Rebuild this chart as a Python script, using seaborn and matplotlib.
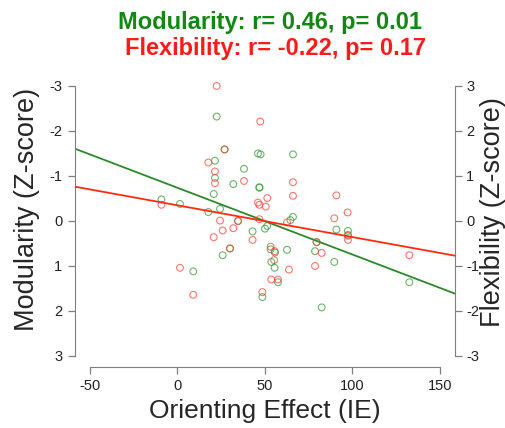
import numpy as np
import pandas as pd
import matplotlib
matplotlib.use("Agg")
import matplotlib.pyplot as plt
import seaborn as sns

# ---- data ----
mod_x = [22.5, 21.5, 46.1, 47.6, 66.1, 27.0, 38.1, 21.5, 32.0, 46.9, 46.9, 20.8,
         -9.1, 1.5, 24.4, 17.7, 66.1, 64.6, 34.7, 51.4, 50.1, 43.0, 90.9, 97.5,
         97.5, 79.6, 30.1, 53.3, 55.8, 62.7, 78.7, 25.9, 53.7, 89.7, 55.6, 9.1,
         57.5, 132.6, 48.6, 82.5]
modularity = [-2.32, -1.34, -1.50, -1.48, -1.48, -1.59, -1.16, -0.96, -0.82, -0.74, -0.75, -0.60,
              -0.48, -0.38, -0.27, -0.20, -0.09, -0.02, 0.00, 0.11, 0.17, 0.23, 0.19, 0.22,
              0.31, 0.47, 0.61, 0.63, 0.70, 0.64, 0.67, 0.76, 0.91, 0.91, 1.04, 1.12,
              1.36, 1.36, 1.69, 1.92]

flex_x = [22.5, 47.4, 27.0, 17.7, 21.5, 38.1, 21.5, 66.1, 66.1, 90.9, 51.4, 46.1,
          46.9, 50.5, -9.1, 97.3, 89.7, 46.9, 24.4, 34.7, 62.7, 25.9, 32.0, 20.8,
          43.0, 97.5, 97.5, 79.6, 30.1, 53.3, 55.6, 82.5, 132.6, 55.3, 1.5, 78.7,
          63.8, 53.7, 57.5, 48.6, 9.1]
flexibility = [3.00, 2.21, 1.59, 1.30, 1.10, 0.89, 0.84, 0.86, 0.56, 0.57, 0.51, 0.41,
               0.36, 0.32, 0.36, 0.19, 0.06, 0.04, 0.01, 0.00, -0.03, -0.21, -0.16, -0.36,
               -0.42, -0.33, -0.42, -0.47, -0.61, -0.57, -0.67, -0.71, -0.76, -0.87, -1.04, -1.00,
               -1.08, -1.30, -1.30, -1.58, -1.64]

x_ticks = [-50, 0, 50, 100, 150]
y_ticks = [-3, -2, -1, 0, 1, 2, 3]
title_mod = "Modularity: r= 0.46, p= 0.01"
title_flex = "Flexibility: r= -0.22, p= 0.17"
x_label = "Orienting Effect (IE)"
y_label_left = "Modularity (Z-score)"
y_label_right = "Flexibility (Z-score)"

df_mod = pd.DataFrame({"IE": mod_x, "Modularity": modularity})
df_flex = pd.DataFrame({"IE": flex_x, "Flexibility": flexibility})

# ---- styling ----
sns.set_style("white")
plt.rcParams["font.family"] = ["Liberation Sans", "DejaVu Sans"]

GREEN_LINE = "#2a8a2a"
GREEN_PT = "#3a9a3a"
RED_LINE = "#ff2a10"
RED_PT = "#ff3b30"
AX_GRAY = "#7f7f7f"

W, H = 506, 428
fig = plt.figure(figsize=(W / 100, H / 100), dpi=100)
ax1 = fig.add_axes([0.1482, 0.143, 0.751, 0.6813])
ax2 = ax1.twinx()

XLIM = (-58.5, 158.7)
YL = 3.24
ax1.set_xlim(*XLIM)
ax1.set_ylim(YL, -YL)
ax2.set_ylim(-YL, YL)

sns.regplot(data=df_mod, x="IE", y="Modularity", ax=ax1, ci=None, truncate=False,
            marker="o",
            scatter_kws=dict(s=24, facecolors="none", edgecolors=GREEN_PT,
                             linewidths=0.8, alpha=0.75),
            line_kws=dict(color=GREEN_LINE, lw=1.3))
sns.regplot(data=df_flex, x="IE", y="Flexibility", ax=ax2, ci=None, truncate=False,
            marker="o",
            scatter_kws=dict(s=24, facecolors="none", edgecolors=RED_PT,
                             linewidths=0.8, alpha=0.7),
            line_kws=dict(color=RED_LINE, lw=1.3))

ax1.set_xlim(*XLIM)
ax2.set_xlim(*XLIM)
ax1.set_ylim(YL, -YL)
ax2.set_ylim(-YL, YL)

for ax in (ax1, ax2):
    for s in ax.spines.values():
        s.set_visible(False)
    ax.grid(False)

ax1.spines["left"].set_visible(True)
ax1.spines["left"].set_bounds(-3, 3)
ax1.spines["left"].set_color(AX_GRAY)
ax1.spines["bottom"].set_visible(True)
ax1.spines["bottom"].set_bounds(-50, 150)
ax1.spines["bottom"].set_color(AX_GRAY)
ax2.spines["right"].set_visible(True)
ax2.spines["right"].set_bounds(-3, 3)
ax2.spines["right"].set_color(AX_GRAY)

ax1.set_xticks(x_ticks)
ax1.set_xticklabels([str(t) for t in x_ticks])
ax1.set_yticks(y_ticks)
ax1.set_yticklabels([str(t) for t in y_ticks])
ax2.set_yticks(y_ticks)
ax2.set_yticklabels([str(t) for t in y_ticks])

ax1.tick_params(axis="both", length=5, width=0.9, color=AX_GRAY, labelsize=10.5,
                labelcolor="#222222", pad=4, left=True, bottom=True)
ax2.tick_params(axis="y", length=5, width=0.9, color=AX_GRAY, labelsize=10.5,
                labelcolor="#222222", pad=3, right=True)

ax1.set_xlabel(x_label, fontsize=19, labelpad=4)
ax1.set_ylabel("")
ax2.set_ylabel("")

fig.text(27 / W, 1 - 209 / H, y_label_left, fontsize=19.5, rotation=90,
         ha="center", va="center")
fig.text(493.5 / W, 1 - 212 / H, y_label_right, fontsize=19.5, rotation=90,
         ha="center", va="center")

fig.text(269.5 / W, 1 - 22 / H, title_mod, color="#118811", fontsize=17, fontweight="bold",
         ha="center", va="center")
fig.text(275.5 / W, 1 - 48 / H, title_flex, color="#ff1a1a", fontsize=17, fontweight="bold",
         ha="center", va="center")

fig.savefig("out.png", dpi=100)
